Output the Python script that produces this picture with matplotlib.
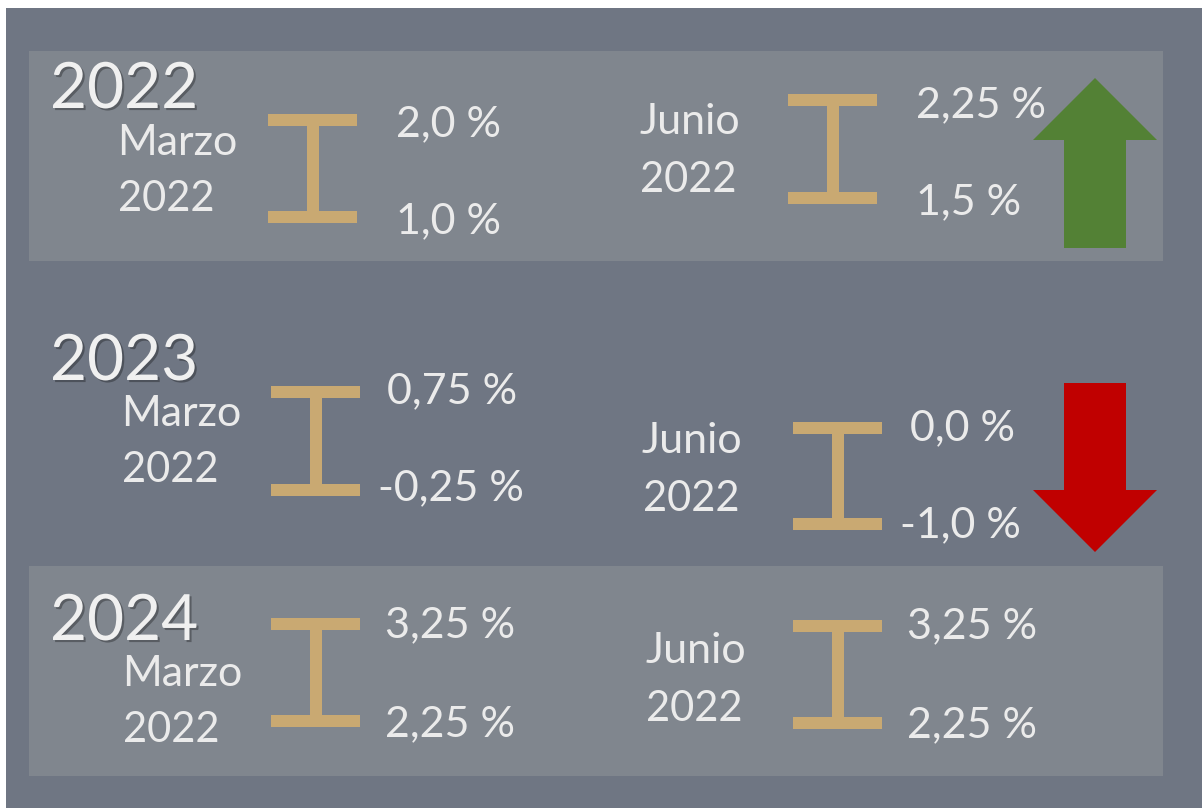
import matplotlib
matplotlib.use("Agg")
import matplotlib.pyplot as plt
import matplotlib.patheffects as pe
from matplotlib.patches import Rectangle, FancyArrow

# data
years = ["2022", "2023", "2024"]
marzo_label = "Marzo\n2022"
junio_label = "Junio\n2022"
marzo_high = [2.0, 0.75, 3.25]
marzo_low = [1.0, -0.25, 2.25]
junio_high = [2.25, 0.0, 3.25]
junio_low = [1.5, -1.0, 2.25]

# layout (pixel coords, y down)
W, H = 1202, 808
BG = "#6f7683"
PANEL = "#80868e"
BEAM = "#c9a972"
TXT = "#ebebeb"
FONT = "Lato"

year_y = [108, 380, 640]
mlab_x = [117, 121, 122]
mlab_y = [155, 426, 686]
jlab_x = [639, 642, 645]
jlab_y = [134, 453, 663]
mbeam = [(268, 114, 223), (271, 386, 496), (271, 618, 727)]
jbeam = [(788, 94, 204), (793, 422, 530), (793, 620, 729)]
mval_pos = [((396, 136), (396, 233)), ((387, 403), (378, 500)), ((385, 637), (385, 736))]
jval_pos = [((916, 117), (916, 214)), ((910, 440), (900, 537)), ((907, 638), (907, 737))]
panels = [(51, 261), None, (566, 776)]
arrow_rows = [(78, 248), (383, 552), None]


def fmt(v):
    s = "%.2f" % v
    if s.endswith("0"):
        s = s[:-1]
    return s.replace(".", ",") + " %"


def ibeam(ax, x, top, bottom, w=89, t=12):
    ax.add_patch(Rectangle((x, top), w, t, color=BEAM, lw=0))
    ax.add_patch(Rectangle((x, bottom - t), w, t, color=BEAM, lw=0))
    sx = x + w / 2 - t / 2
    ax.add_patch(Rectangle((sx, top), t, bottom - top, color=BEAM, lw=0))


fig = plt.figure(figsize=(W / 100, H / 100), dpi=100, facecolor="white")
ax = fig.add_axes([0, 0, 1, 1])
ax.set_xlim(0, W)
ax.set_ylim(H, 0)
ax.axis("off")

ax.add_patch(Rectangle((6, 8), W - 6, H - 8, color=BG, lw=0))

shadow = [pe.SimplePatchShadow(offset=(1.5, -1.5), shadow_rgbFace="black", alpha=0.3), pe.Normal()]

for i, yr in enumerate(years):
    if panels[i] is not None:
        t, b = panels[i]
        ax.add_patch(Rectangle((29, t), 1163 - 29, b - t, color=PANEL, lw=0))

    ax.text(50, year_y[i], yr, fontsize=46, color="#f0f0f0", family=FONT,
            va="baseline", ha="left", path_effects=shadow)

    m1, m2 = marzo_label.split("\n")
    ax.text(mlab_x[i], mlab_y[i], m1, fontsize=31, color=TXT, family=FONT, va="baseline")
    ax.text(mlab_x[i] + 1, mlab_y[i] + 56, m2, fontsize=30, color=TXT, family=FONT, va="baseline")
    j1, j2 = junio_label.split("\n")
    ax.text(jlab_x[i], jlab_y[i], j1, fontsize=31, color=TXT, family=FONT, va="baseline")
    ax.text(jlab_x[i] + 1, jlab_y[i] + 58, j2, fontsize=30, color=TXT, family=FONT, va="baseline")

    ibeam(ax, *mbeam[i])
    ibeam(ax, *jbeam[i])

    (hx, hy), (lx, ly) = mval_pos[i]
    ax.text(hx, hy, fmt(marzo_high[i]), fontsize=31, color=TXT, family=FONT, va="baseline")
    ax.text(lx, ly, fmt(marzo_low[i]), fontsize=31, color=TXT, family=FONT, va="baseline")
    (hx, hy), (lx, ly) = jval_pos[i]
    ax.text(hx, hy, fmt(junio_high[i]), fontsize=31, color=TXT, family=FONT, va="baseline")
    ax.text(lx, ly, fmt(junio_low[i]), fontsize=31, color=TXT, family=FONT, va="baseline")

    # trend arrow: compare June forecast with March forecast
    if arrow_rows[i] is not None and junio_high[i] != marzo_high[i]:
        top, bot = arrow_rows[i]
        if junio_high[i] > marzo_high[i]:
            y0, dy, col = bot, top - bot, "#538135"
        else:
            y0, dy, col = top, bot - top, "#c00000"
        ax.add_patch(FancyArrow(1095, y0, 0, dy, width=62, head_width=124, head_length=62,
                                length_includes_head=True, color=col, lw=0))

fig.savefig("out.png", dpi=100, facecolor="white")
